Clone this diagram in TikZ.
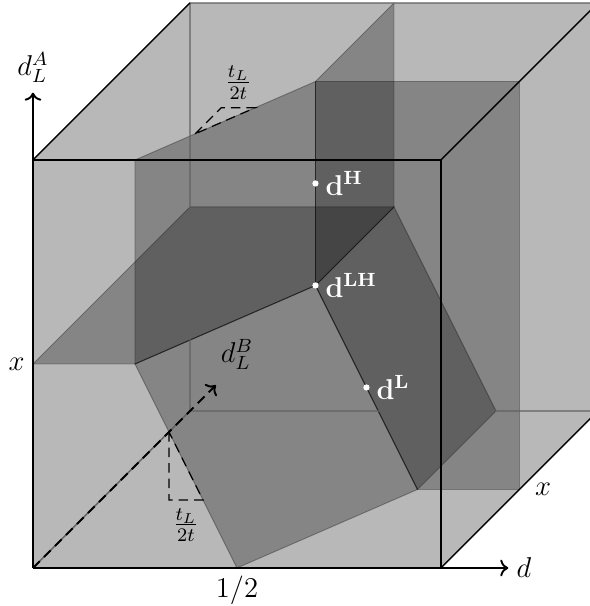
\documentclass[tikz,border=0pt]{standalone}
\usetikzlibrary{arrows.meta}
\begin{document}
\begin{tikzpicture}[x={(6cm,0cm)}, y={(0cm,6cm)}, z={(2.309cm,2.309cm)},
  every node/.style={font=\large},
  hull/.style={fill=black, fill opacity=0.28},
  plane/.style={fill=black, fill opacity=0.28, draw=black, draw opacity=0.3, line width=0.4pt},
  backedge/.style={draw=black!62, line width=0.6pt},
  frontedge/.style={draw=black, line width=0.8pt},
  sideedge/.style={draw=black, line width=0.6pt},
  axisline/.style={draw=black, line width=0.8pt, ->},
  slope/.style={draw=black, dash pattern=on 4pt off 2.5pt, line width=0.5pt},
  pt/.style={circle, fill=white, inner sep=0pt, minimum size=2.6pt},
  ptlabel/.style={text=white, right, inner sep=2.5pt, font=\large},
]
\clip (-0.485cm,-0.559cm) rectangle (8.191cm,8.353cm);
% cube corners
\coordinate (O) at (0,0,0);
\coordinate (A) at (1,0,0);
\coordinate (B) at (1,1,0);
\coordinate (C) at (0,1,0);
\coordinate (Ob) at (0,0,1);
\coordinate (Ab) at (1,0,1);
\coordinate (Bb) at (1,1,1);
\coordinate (Cb) at (0,1,1);
% axis ends
\coordinate (XA) at (1.165,0,0);
\coordinate (YA) at (0,1.165,0);
\coordinate (ZA) at (0,0,1.165);
% hull
\fill[hull] (O)--(A)--(Ab)--(Bb)--(Cb)--(C)--cycle;
% partition planes
\filldraw[plane] (0,.5,0)--(.25,.5,0)--(.5,.5,.5)--(.5,.5,1)--(0,.5,1)--cycle;
\filldraw[plane] (.25,1,0)--(.5,1,.5)--(.5,.5,.5)--(.25,.5,0)--cycle;
\filldraw[plane] (.5,1,.5)--(.5,1,1)--(.5,.5,1)--(.5,.5,.5)--cycle;
\filldraw[plane] (.5,1,.5)--(1,1,.5)--(1,0,.5)--(.75,0,.5)--(.5,.5,.5)--cycle;
\filldraw[plane] (.25,.5,0)--(.5,.5,.5)--(.75,0,.5)--(.5,0,0)--cycle;
\filldraw[plane] (.5,.5,.5)--(.5,.5,1)--(.75,0,1)--(.75,0,.5)--cycle;
% cube edges
\draw[backedge] (O)--(Ob) (Ob)--(Cb) (Cb)--(Bb) (Ob)--(Ab);
\draw[sideedge] (C)--(Cb) (B)--(Bb) (A)--(Ab);
\draw[frontedge] (C)--(B)--(A);
% axes
\draw[axisline] (O) -- (YA);
\draw[axisline] (O) -- (XA);
\draw[axisline, dash pattern=on 4pt off 2.5pt] (O) -- (ZA);
\node[above=4pt, inner sep=0pt] (la) at (YA) {$d_L^A$};
\node[right] (ld) at (XA) {$d$};
\node (lb) at ([shift={(0.31cm,0.45cm)}]ZA) {$d_L^B$};
\coordinate (xl) at (0,.5,0);
\node[left] (lx1) at (xl) {$x$};
\coordinate (xr) at (1,0,.5);
\node[right=3pt] (lx2) at (xr) {$x$};
\coordinate (half) at (.5,0,0);
\node[below] (lh) at (half) {$1/2$};
% slope triangles
\coordinate (T1) at (0.3333,1,0.1667);
\coordinate (T2) at (0.3333,1,0.3333);
\coordinate (T3) at (0.4167,1,0.3333);
\draw[slope] (T1)--(T2)--(T3)--cycle;
\path (T2) -- (T3) node[midway, above] (ft) {$\frac{t_L}{2t}$};
\coordinate (S1) at (0.3333,0.3333,0);
\coordinate (S2) at (0.3333,0.1667,0);
\coordinate (S3) at (0.4167,0.1667,0);
\draw[slope] (S1)--(S2)--(S3)--cycle;
\path (S2) -- (S3) node[midway, below] (fb) {$\frac{t_L}{2t}$};
% points
\node[pt] (dH) at (.5,.75,.5) {};
\node[pt] (dLH) at (.5,.5,.5) {};
\node[pt] (dL) at (.625,.25,.5) {};
\node[ptlabel] (tH) at (dH.east) {$\mathbf{d}^{\mathbf{H}}$};
\node[ptlabel] (tLH) at (dLH.east) {$\mathbf{d}^{\mathbf{LH}}$};
\node[ptlabel] (tL) at (dL.east) {$\mathbf{d}^{\mathbf{L}}$};
\end{tikzpicture}
\end{document}
